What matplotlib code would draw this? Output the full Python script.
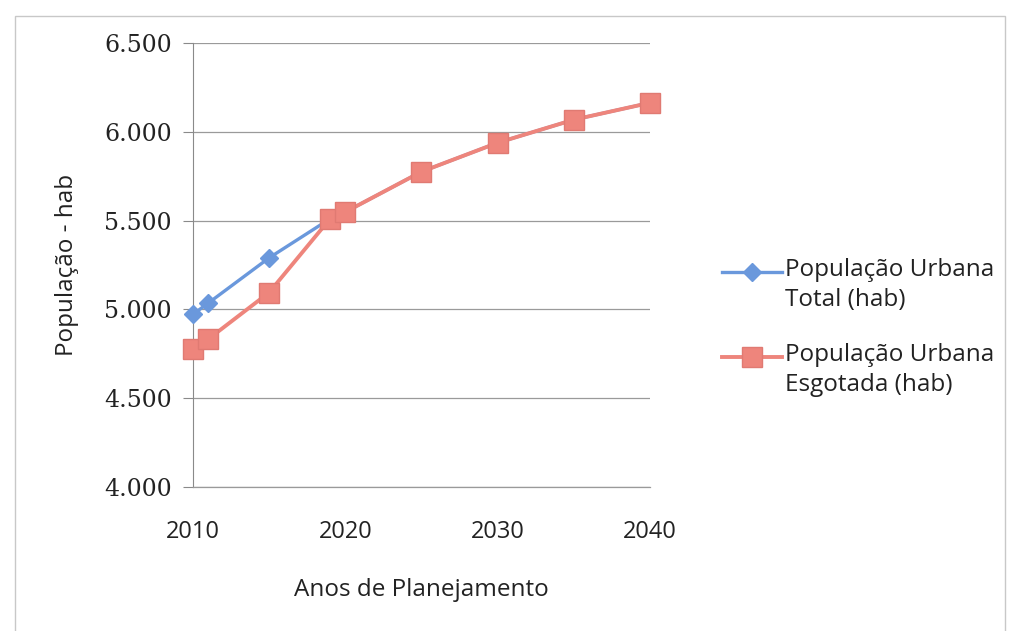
import matplotlib
matplotlib.use("Agg")
import matplotlib.pyplot as plt
from matplotlib.ticker import FuncFormatter, MultipleLocator
from matplotlib.patches import Rectangle
from matplotlib.lines import Line2D

years = [2010, 2011, 2015, 2019, 2020, 2025, 2030, 2035, 2040]
pop_total = [4972, 5035, 5290, 5510, 5548, 5775, 5938, 6068, 6163]
pop_esgotada = [4775, 4832, 5095, 5510, 5548, 5775, 5938, 6068, 6163]
label_total = "População Urbana\nTotal (hab)"
label_esg = "População Urbana\nEsgotada (hab)"

blue = "#6a98dc"
red = "#ee857c"

fig = plt.figure(figsize=(10.1, 6.31), dpi=100)
ax = fig.add_axes([0.191, 0.2282, 0.4525, 0.7037])

ax.plot(years, pop_total, color=blue, lw=2.4, marker="D", markersize=9,
        markeredgecolor=blue, label=label_total, zorder=3, clip_on=False)
ax.plot(years, pop_esgotada, color=red, lw=2.8, marker="s", markersize=14,
        markeredgecolor="#e07a72", label=label_esg, zorder=4, clip_on=False)

ax.set_xlim(2010, 2040)
ax.set_ylim(4000, 6500)
ax.yaxis.set_major_locator(MultipleLocator(500))
ax.set_xticks([2010, 2020, 2030, 2040])
ax.yaxis.set_major_formatter(FuncFormatter(lambda v, p: f"{v/1000:.3f}"))
ax.grid(axis="y", color="#9a9a9a", lw=0.9)
ax.set_axisbelow(True)
for s in ["top", "right"]:
    ax.spines[s].set_visible(False)
ax.spines["bottom"].set_color("#9a9a9a")
ax.spines["bottom"].set_linewidth(0.9)
ax.spines["left"].set_color("#8a8a8a")
ax.tick_params(axis="y", direction="out", length=7, color="#8a8a8a", pad=8,
               labelsize=17, labelcolor="#222222")
ax.tick_params(axis="x", length=0, pad=24, labelsize=17, labelcolor="#222222")
for lbl in ax.get_yticklabels():
    lbl.set_family("DejaVu Serif")
for lbl in ax.get_xticklabels():
    lbl.set_family("Open Sans")

ax.set_xlabel("Anos de Planejamento", fontsize=17.5, family="Open Sans",
              labelpad=24, color="#222222")
ax.set_ylabel("População - hab", fontsize=17.5, family="Open Sans",
              labelpad=18, color="#222222")

# legend drawn manually (handle aligned with first text line, like the original)
entries = [(label_total, blue, "D", 9, blue, 2.4),
           (label_esg, red, "s", 14, "#e07a72", 2.8)]
W, H = 1010.0, 631.0
first_line_y = [272, 357]
for (lab, col, mk, ms, mec, lw), ypx in zip(entries, first_line_y):
    yf = 1 - ypx / H
    fig.add_artist(Line2D([722 / W, 782 / W], [yf, yf], transform=fig.transFigure,
                          color=col, lw=lw))
    fig.add_artist(Line2D([752 / W], [yf], transform=fig.transFigure, color=col,
                          marker=mk, markersize=ms, markeredgecolor=mec, lw=0))
    fig.text(785 / W, 1 - (ypx - 14) / H, lab, transform=fig.transFigure,
             family="Open Sans", fontsize=17.5, color="#222222", va="top",
             ha="left", linespacing=1.35)

fig.patches.append(Rectangle((0.015, -0.1), 0.98, 1.075, transform=fig.transFigure,
                             fill=False, edgecolor="#c8c8c8", lw=1))

fig.savefig("out.png", dpi=100)
